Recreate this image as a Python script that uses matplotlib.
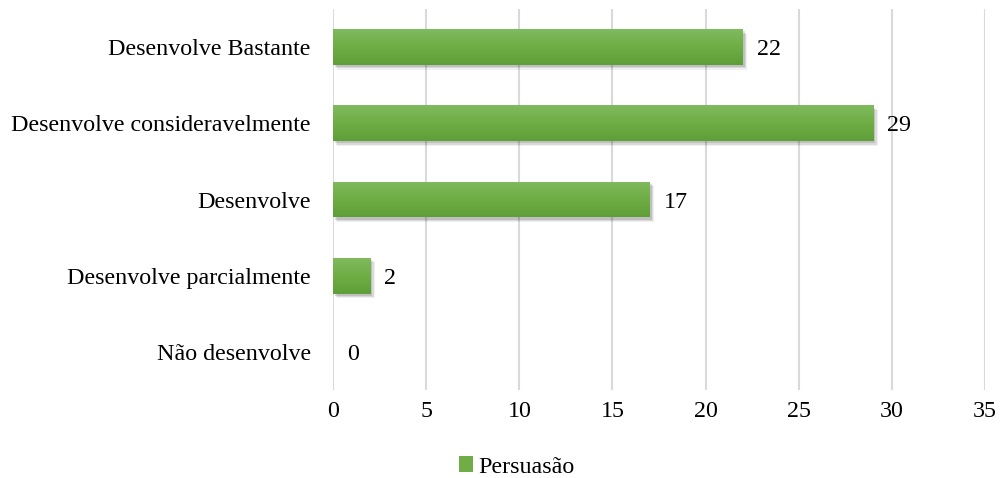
import matplotlib.pyplot as plt
import numpy as np
from matplotlib import patheffects
from matplotlib.colors import LinearSegmentedColormap
from matplotlib.patches import Patch

categories = ['Não desenvolve', 'Desenvolve parcialmente', 'Desenvolve',
              'Desenvolve consideravelmente', 'Desenvolve Bastante']
values = [0, 2, 17, 29, 22]
series_name = 'Persuasão'
xticks = [0, 5, 10, 15, 20, 25, 30, 35]

plt.rcParams['font.family'] = ['Liberation Serif', 'DejaVu Serif']
FS = 17.3

fig = plt.figure(figsize=(10.01, 4.78), dpi=100)
ax = fig.add_axes([0.3327, 0.184, 0.6513, 0.797])

pos = np.arange(len(categories))
bar_h = 0.47

# soft drop shadow made from a few stacked offsets
shadow = [patheffects.SimplePatchShadow(offset=(o, -o), shadow_rgbFace='black', alpha=a)
          for o, a in [(3.2, 0.06), (2.4, 0.09), (1.5, 0.12)]]
bars = ax.barh(pos, values, height=bar_h, color='#70ad47', zorder=3,
               path_effects=shadow + [patheffects.Normal()])

# vertical gradient on each bar: lighter top, darker bottom
green = LinearSegmentedColormap.from_list('g', ['#5f9f37', '#6fad45', '#80ba5e'])
grad = np.linspace(0, 1, 64).reshape(-1, 1)
for b, v, y in zip(bars, values, pos):
    if v <= 0:
        continue
    im = ax.imshow(grad, cmap=green, aspect='auto', origin='lower',
                   extent=(0, v, y - bar_h / 2, y + bar_h / 2), zorder=4)
    im.set_clip_path(b)

for v, y in zip(values, pos):
    ax.annotate(str(v), xy=(v, y), xytext=(10, 0), textcoords='offset points',
                ha='left', va='center_baseline', fontsize=FS, color='black', zorder=5)

ax.set_xlim(0, 35)
ax.set_ylim(-0.5, len(categories) - 0.5)
ax.set_xticks(xticks)
ax.set_yticks(pos)
ax.set_yticklabels(categories)
ax.tick_params(axis='both', length=0, labelsize=FS)
ax.tick_params(axis='y', pad=16)
ax.tick_params(axis='x', pad=8)
ax.grid(axis='x', color='#d9d9d9', linewidth=1.5, zorder=0)
ax.set_axisbelow(True)
for s in ax.spines.values():
    s.set_visible(False)

fig.legend(handles=[Patch(facecolor='#70ad47', label=series_name)],
           loc='center', bbox_to_anchor=(0.516, 0.023), frameon=False,
           fontsize=FS, handlelength=0.6, handleheight=0.6, handletextpad=0.2)

fig.savefig('out.png', dpi=100)
